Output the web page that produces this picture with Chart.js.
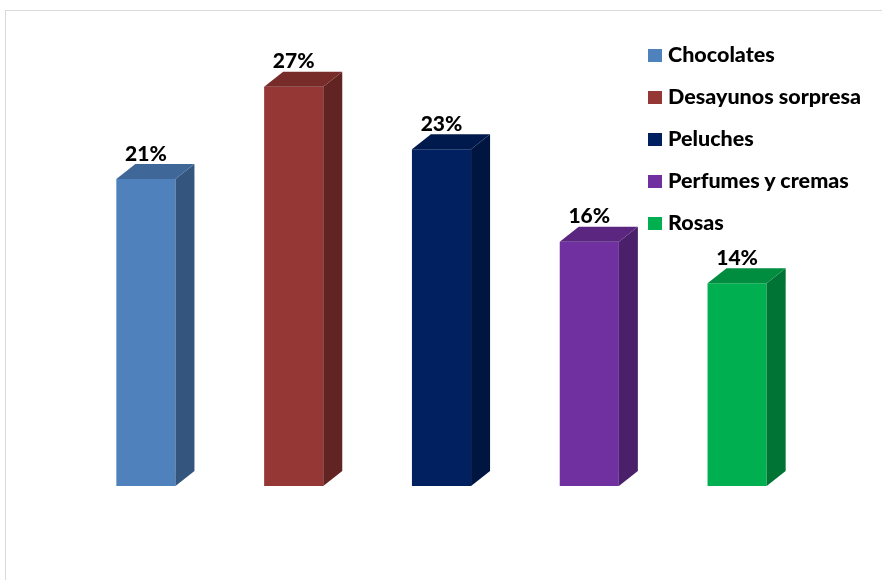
<!DOCTYPE html>
<html lang="es">
<head>
  <meta charset="UTF-8" />
  <title>Regalos</title>
  <style>
    body { margin: 0; background: #fff; }
    #wrap { position: relative; width: 882px; height: 580px; overflow: hidden; }
    #frame { position: absolute; left: 5px; top: 10px; width: 900px; height: 600px; border: 1px solid #d9d9d9; }
    #legend { position: absolute; left: 648px; top: 42px; font-family: Lato, "Open Sans", sans-serif; font-weight: 900; font-size: 21.5px; color: #000; }
    #legend div { height: 42px; line-height: 24px; white-space: nowrap; }
    #legend span.box { display: inline-block; width: 14px; height: 13px; margin-right: 6px; vertical-align: 0px; }
  </style>
</head>
<body>
  <div id="wrap">
    <div id="frame"></div>
    <canvas id="myChart" width="882" height="580"></canvas>
    <div id="legend"></div>
  </div>

  <script src="https://cdn.jsdelivr.net/npm/chart.js"></script>
  <script>
    const categories = ['Chocolates', 'Desayunos sorpresa', 'Peluches', 'Perfumes y cremas', 'Rosas'];
    const values = [20.6, 26.8, 22.6, 16.4, 13.6];
    const colors = ['#4F81BD', '#953735', '#002060', '#7030A0', '#00B050'];

    // darker shade for the 3d faces
    function shade(hex, f) {
      const n = parseInt(hex.slice(1), 16);
      const r = Math.round(((n >> 16) & 255) * f);
      const g = Math.round(((n >> 8) & 255) * f);
      const b = Math.round((n & 255) * f);
      return 'rgb(' + r + ',' + g + ',' + b + ')';
    }

    const dx = 19, dy = 15;

    const bars3d = {
      id: 'bars3d',
      afterDatasetsDraw(chart) {
        const c = chart.ctx;
        const meta = chart.getDatasetMeta(0);
        meta.data.forEach((bar, i) => {
          const left = bar.x - bar.width / 2;
          const right = bar.x + bar.width / 2;
          const top = bar.y;
          const base = bar.base;
          // side face
          c.fillStyle = shade(colors[i], 0.66);
          c.beginPath();
          c.moveTo(right, top);
          c.lineTo(right + dx, top - dy);
          c.lineTo(right + dx, base - dy);
          c.lineTo(right, base);
          c.closePath();
          c.fill();
          // top face
          c.fillStyle = shade(colors[i], 0.8);
          c.beginPath();
          c.moveTo(left, top);
          c.lineTo(left + dx, top - dy);
          c.lineTo(right + dx, top - dy);
          c.lineTo(right, top);
          c.closePath();
          c.fill();
          // value label
          c.fillStyle = '#000';
          c.font = '900 21px Lato, "Open Sans", sans-serif';
          c.textAlign = 'center';
          c.textBaseline = 'middle';
          c.fillText(Math.round(values[i]) + '%', bar.x, top - dy - 10);
        });
      }
    };

    new Chart(document.getElementById('myChart'), {
      type: 'bar',
      data: {
        labels: categories,
        datasets: [{
          data: values,
          backgroundColor: colors,
          borderWidth: 0,
          barPercentage: 0.4,
          categoryPercentage: 1
        }]
      },
      options: {
        responsive: false,
        animation: false,
        layout: { padding: { left: 72, right: 71, top: 39, bottom: 94 } },
        plugins: { legend: { display: false }, tooltip: { enabled: false } },
        scales: {
          x: { display: false },
          y: { display: false, min: 0, max: 30 }
        }
      },
      plugins: [bars3d]
    });

    const legend = document.getElementById('legend');
    categories.forEach((name, i) => {
      const row = document.createElement('div');
      row.innerHTML = '<span class="box" style="background:' + colors[i] + '"></span>' + name;
      legend.appendChild(row);
    });
  </script>
</body>
</html>
